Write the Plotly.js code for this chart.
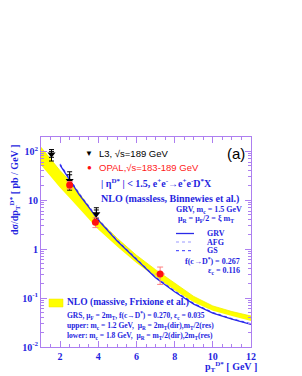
<!DOCTYPE html>
<html><head><meta charset="utf-8">
<script src="https://cdn.plot.ly/plotly-3.0.1.min.js"></script>
<style>html,body{margin:0;padding:0;background:#fff;}</style>
</head><body><div id="chart" style="width:302px;height:376px;"></div>
<script>
// ---- data ----
const bandX     = [1, 1.5, 2, 2.5, 3, 3.5, 4, 5, 6, 7, 8, 9, 10, 11, 12];
const bandUpper = [120, 68, 40, 25, 14, 7.4, 4.0, 1.65, 0.75, 0.38, 0.20, 0.108, 0.069, 0.053, 0.043];
const bandLower = [52, 30, 18, 11.0, 6.8, 4.1, 2.5, 1.12, 0.52, 0.27, 0.145, 0.082, 0.055, 0.043, 0.034];

const nloX   = [2, 2.5, 3, 3.5, 4, 5, 6, 7, 8, 9, 10, 11, 12];
const nloGRV = [52, 26, 13, 7.2, 3.9, 1.45, 0.60, 0.26, 0.135, 0.075, 0.049, 0.037, 0.029];
const nloAFG = [55, 27.5, 13.8, 7.6, 4.1, 1.52, 0.63, 0.27, 0.141, 0.078, 0.051, 0.038, 0.030];
const nloGS  = [54, 27, 13.5, 7.4, 4.0, 1.49, 0.62, 0.265, 0.138, 0.077, 0.050, 0.0375, 0.0295];

const l3X = [1.55, 2.5, 3.9];
const l3Y = [87, 25, 5.2];
const l3ErrUp = [21, 13, 1.8];
const l3ErrDn = [24, 9, 1.4];
const l3StatUp = [12, 8, 1.1];
const l3StatDn = [12, 6, 0.9];

const opalX = [2.5, 3.85, 7.24];
const opalY = [20.5, 3.55, 0.31];
const opalErrUp = [3.5, 0.8, 0.12];
const opalErrDn = [3.5, 0.8, 0.12];
const opalErrX = [0, 0, 0.25];

const yTickVals = [0.01, 0.1, 1, 10, 100];
const yTickText = ["10<sup>-2</sup>", "10<sup>-1</sup>", "1", "10", "10<sup>2</sup>"];
const xTickVals = [2, 4, 6, 8, 10, 12];
const xTickText = ["2", "4", "6", "8", "10", "12"];

// ---- styles ----
const BLUE = '#1f1fe0';
const FRAME = '#ad7ff0';
const SERIF = 'Liberation Serif';
const SANS = 'Liberation Sans';

const yMinor = [];
[0.01, 0.1, 1, 10, 100].forEach(d => { for (let k = 2; k <= 9; k++) { const v = d * k; if (v < 195) yMinor.push(v); } });
const xMinor = [];
for (let v = 1.5; v < 12; v += 0.5) if (Math.abs(v / 2 - Math.round(v / 2)) > 1e-6) xMinor.push(v);

const traces = [
  {x: bandX, y: bandLower, mode: 'lines', line: {width: 0, color: '#ffff00'}, hoverinfo: 'skip', showlegend: false},
  {x: bandX, y: bandUpper, mode: 'lines', fill: 'tonexty', fillcolor: '#ffff00', line: {width: 0.8, color: '#f0f000'}, hoverinfo: 'skip', showlegend: false},
  {x: nloX, y: nloAFG, mode: 'lines', line: {width: 1.2, color: '#9a9aff', dash: 'dot'}, showlegend: false},
  {x: nloX, y: nloGS, mode: 'lines', line: {width: 1, color: '#3030ff', dash: 'dot'}, showlegend: false},
  {x: nloX, y: nloGRV, mode: 'lines', line: {width: 1.3, color: '#2a2ae8'}, showlegend: false},
  {x: l3X, y: l3Y, mode: 'markers', marker: {symbol: 'triangle-down', size: 7, color: '#000'},
   error_y: {type: 'data', symmetric: false, array: l3ErrUp, arrayminus: l3ErrDn, color: '#000', thickness: 1, width: 2.5}, showlegend: false},
  {x: l3X, y: l3Y, mode: 'markers', marker: {size: 1, color: 'rgba(0,0,0,0)'},
   error_y: {type: 'data', symmetric: false, array: l3StatUp, arrayminus: l3StatDn, color: '#000', thickness: 1, width: 2.5}, showlegend: false},
  {x: opalX, y: opalY, mode: 'markers', marker: {symbol: 'circle', size: 7, color: '#ff1010'},
   error_y: {type: 'data', symmetric: false, array: opalErrUp, arrayminus: opalErrDn, color: '#ff8080', thickness: 1, width: 3},
   error_x: {type: 'data', array: opalErrX, color: '#ff8080', thickness: 1, width: 0}, showlegend: false}
];

function px(x) { return (x - 41) / 210; }
function py(y) { return (347 - y) / 210; }
function ann(text, x, y, opts) {
  return Object.assign({text: text, x: px(x), y: py(y), xref: 'paper', yref: 'paper', showarrow: false,
    xanchor: 'left', yanchor: 'middle', font: {family: SERIF, size: 10, color: BLUE}}, opts || {});
}

const annotations = [
  ann('▼', 89, 153, {xanchor: 'center', font: {family: SANS, size: 8, color: '#000'}}),
  ann('L3, √s=189 GeV', 97, 153, {font: {family: SANS, size: 9.5, color: '#000'}}),
  ann('●', 89, 167.5, {xanchor: 'center', font: {family: SANS, size: 8, color: '#ff1010'}}),
  ann('OPAL,√s=183-189 GeV', 97, 167.5, {font: {family: SANS, size: 9.5, color: '#ff2020'}}),
  ann('<b>| η<sup>D*</sup> | &lt; 1.5, e<sup>+</sup>e<sup>-</sup>→e<sup>+</sup>e<sup>-</sup>D<sup>*</sup>X</b>', 99, 183, {font: {family: SERIF, size: 10, color: BLUE}}),
  ann('<b>NLO (massless, Binnewies et al.)</b>', 99, 199, {font: {family: SERIF, size: 10, color: BLUE}}),
  ann('(a)', 236, 153, {xanchor: 'center', font: {family: SANS, size: 15, color: '#000'}}),
  ann('<b>GRV, m<sub>c</sub> = 1.5 GeV</b>', 174, 210, {font: {family: SERIF, size: 8, color: BLUE}}),
  ann('<b>μ<sub>R</sub> = μ<sub>F</sub>/2 = ξ m<sub>T</sub></b>', 176, 219, {font: {family: SERIF, size: 8, color: BLUE}}),
  ann('<b>GRV</b>', 205, 233.5, {font: {family: SERIF, size: 8, color: BLUE}}),
  ann('<b>AFG</b>', 205, 242, {font: {family: SERIF, size: 8, color: BLUE}}),
  ann('<b>GS</b>', 205, 250.7, {font: {family: SERIF, size: 8, color: BLUE}}),
  ann('<b>f(c→D<sup>*</sup>) = 0.267</b>', 242, 260.7, {xanchor: 'right', font: {family: SERIF, size: 8, color: BLUE}}),
  ann('<b>ε<sub>c</sub> = 0.116</b>', 242, 270.7, {xanchor: 'right', font: {family: SERIF, size: 8, color: BLUE}}),
  ann('<b>NLO (massive, Frixione et al.)</b>', 65, 302.7, {font: {family: SERIF, size: 9.5, color: BLUE}}),
  ann('<b>GRS, μ<sub>F</sub> = 2m<sub>T</sub>, f(c→D<sup>*</sup>) = 0.270, ε<sub>c</sub> = 0.035</b>', 65, 315, {font: {family: SERIF, size: 7.5, color: BLUE}}),
  ann('<b>upper: m<sub>c</sub> = 1.2 GeV,  μ<sub>R</sub> = 2m<sub>T</sub>(dir),m<sub>T</sub>/2(res)</b>', 65, 326, {font: {family: SERIF, size: 7.5, color: BLUE}}),
  ann('<b>lower: m<sub>c</sub> = 1.8 GeV,  μ<sub>R</sub> = m<sub>T</sub>/2(dir),2m<sub>T</sub>(res)</b>', 65, 336, {font: {family: SERIF, size: 7.5, color: BLUE}}),
  ann('<b>dσ/dp<sub>T</sub><sup>D*</sup> [ pb / GeV ]</b>', 15, 190, {xanchor: 'center', textangle: -90, font: {family: SERIF, size: 10, color: BLUE}}),
  ann('<b>p<sub>T</sub><sup>D*</sup> [ GeV ]</b>', 203, 367, {font: {family: SERIF, size: 10, color: BLUE}})
];

const shapes = [
  {type: 'line', xref: 'paper', yref: 'paper', x0: px(176), x1: px(194), y0: py(233.5), y1: py(233.5), line: {color: '#2a2ae8', width: 1.3}},
  {type: 'line', xref: 'paper', yref: 'paper', x0: px(176), x1: px(194), y0: py(242), y1: py(242), line: {color: '#9a9aff', width: 1.2, dash: 'dot'}},
  {type: 'line', xref: 'paper', yref: 'paper', x0: px(176), x1: px(194), y0: py(250.7), y1: py(250.7), line: {color: '#3030ff', width: 1, dash: 'dot'}},
  {type: 'rect', xref: 'paper', yref: 'paper', x0: px(49), x1: px(63), y0: py(307), y1: py(299), fillcolor: '#ffff00', line: {color: '#f0e000', width: 0.5}}
];

const tickFont = {family: SERIF, size: 10, color: BLUE, weight: 'bold'};

const layout = {
  width: 302, height: 376,
  margin: {l: 41, r: 51, t: 137, b: 29, pad: 0},
  paper_bgcolor: '#fff', plot_bgcolor: '#fff',
  showlegend: false,
  xaxis: {range: [1, 12], tickvals: xTickVals, ticktext: xTickText, tickfont: tickFont,
    ticks: 'inside', ticklen: 6, tickcolor: FRAME, tickwidth: 1,
    showline: true, linecolor: FRAME, linewidth: 1, mirror: 'allticks', showgrid: false, zeroline: false,
    minor: {tickvals: xMinor, ticklen: 3, tickcolor: FRAME, ticks: 'inside', showgrid: false}},
  yaxis: {type: 'log', range: [-2, 2.29], tickvals: yTickVals, ticktext: yTickText, tickfont: tickFont,
    ticks: 'inside', ticklen: 6, tickcolor: FRAME, tickwidth: 1,
    showline: true, linecolor: FRAME, linewidth: 1, mirror: 'allticks', showgrid: false, zeroline: false,
    minor: {tickvals: yMinor, ticklen: 3, tickcolor: FRAME, ticks: 'inside', showgrid: false}},
  annotations: annotations,
  shapes: shapes
};

Plotly.newPlot('chart', traces, layout, {displayModeBar: false, staticPlot: true});
</script>
</body></html>
